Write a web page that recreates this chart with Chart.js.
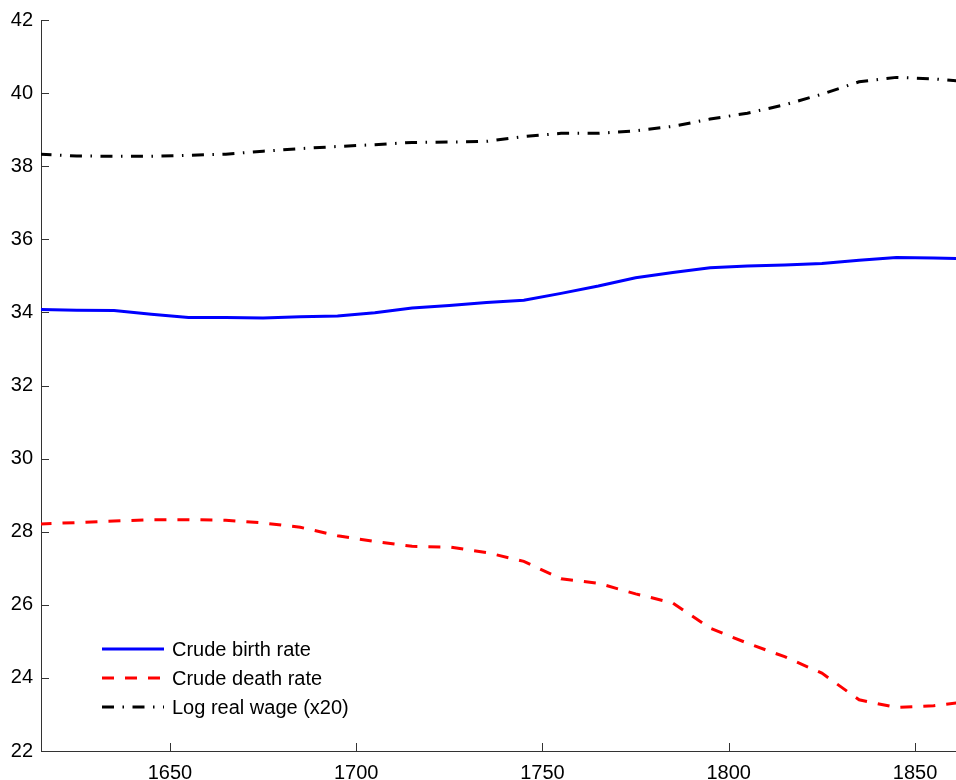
<!DOCTYPE html>
<html>
<head>
<meta charset="utf-8">
<title>Birth rate, death rate and real wage</title>
<script src="https://cdn.jsdelivr.net/npm/chart.js@4.4.1/dist/chart.umd.min.js"></script>
<style>
    html, body { margin: 0; padding: 0; background: #fff; }
    #wrap { width: 956px; height: 780px; }
</style>
</head>
<body>
<div id="wrap"><canvas id="rateChart" width="956" height="780"></canvas></div>
<script>
// 10년 간격 연도
const years = [1615, 1625, 1635, 1645, 1655, 1665, 1675, 1685, 1695, 1705, 1715, 1725, 1735,
               1745, 1755, 1765, 1775, 1785, 1795, 1805, 1815, 1825, 1835, 1845, 1855, 1865];

const birthRate = [34.08, 34.06, 34.05, 33.95, 33.86, 33.86, 33.85, 33.88, 33.90, 33.99, 34.12, 34.19, 34.27,
                   34.33, 34.52, 34.72, 34.95, 35.09, 35.22, 35.27, 35.30, 35.34, 35.43, 35.50, 35.49, 35.47];

const deathRate = [28.21, 28.25, 28.29, 28.33, 28.33, 28.31, 28.24, 28.12, 27.89, 27.73, 27.60, 27.58, 27.43,
                   27.19, 26.71, 26.59, 26.30, 26.05, 25.36, 24.95, 24.58, 24.13, 23.40, 23.19, 23.24, 23.36];

const logRealWage = [38.33, 38.28, 38.27, 38.27, 38.30, 38.33, 38.41, 38.48, 38.54, 38.59, 38.65, 38.66, 38.68,
                     38.81, 38.90, 38.90, 38.97, 39.09, 39.29, 39.45, 39.68, 39.97, 40.31, 40.43, 40.39, 40.30];

const xTicks = [1650, 1700, 1750, 1800, 1850];
const seriesLabels = ['Crude birth rate', 'Crude death rate', 'Log real wage (x20)'];

const FONT = { family: '"Liberation Sans", Arial, Helvetica, sans-serif', size: 20 };

function toPoints(values) {
    return years.map((yr, i) => ({ x: yr, y: values[i] }));
}

// 축 안쪽으로 들어가는 눈금 (MATLAB 스타일)
const innerTicksPlugin = {
    id: 'innerTicks',
    afterDraw(chart) {
        const { ctx, chartArea, scales } = chart;
        const len = 8;
        ctx.save();
        ctx.strokeStyle = '#333';
        ctx.lineWidth = 1;
        ctx.beginPath();
        scales.x.ticks.forEach(t => {
            const px = Math.round(scales.x.getPixelForValue(t.value)) + 0.5;
            ctx.moveTo(px, chartArea.bottom);
            ctx.lineTo(px, chartArea.bottom - len);
        });
        scales.y.ticks.forEach(t => {
            const py = Math.round(scales.y.getPixelForValue(t.value)) + 0.5;
            ctx.moveTo(chartArea.left, py);
            ctx.lineTo(chartArea.left + len, py);
        });
        ctx.stroke();
        ctx.restore();
    }
};

// 차트 내부 왼쪽 아래 범례
const insideLegendPlugin = {
    id: 'insideLegend',
    afterDraw(chart) {
        const { ctx, chartArea } = chart;
        const x0 = chartArea.left + 61;
        const x1 = chartArea.left + 123;
        const textX = chartArea.left + 131;
        let rowY = chartArea.bottom - 102;
        ctx.save();
        ctx.font = `${FONT.size}px ${FONT.family}`;
        ctx.textBaseline = 'middle';
        ctx.textAlign = 'left';
        chart.data.datasets.forEach(ds => {
            ctx.beginPath();
            ctx.strokeStyle = ds.borderColor;
            ctx.lineWidth = ds.borderWidth;
            ctx.setLineDash(ds.borderDash || []);
            ctx.moveTo(x0, rowY);
            ctx.lineTo(x1, rowY);
            ctx.stroke();
            ctx.setLineDash([]);
            ctx.fillStyle = '#000';
            ctx.fillText(ds.label, textX, rowY + 1);
            rowY += 29;
        });
        ctx.restore();
    }
};

const ctx = document.getElementById('rateChart').getContext('2d');
new Chart(ctx, {
    type: 'line',
    data: {
        datasets: [{
            label: seriesLabels[0],
            data: toPoints(birthRate),
            borderColor: '#0000ff',
            borderWidth: 3
        }, {
            label: seriesLabels[1],
            data: toPoints(deathRate),
            borderColor: '#ff0000',
            borderWidth: 3,
            borderDash: [12, 11]
        }, {
            label: seriesLabels[2],
            data: toPoints(logRealWage),
            borderColor: '#000000',
            borderWidth: 3,
            borderDash: [12, 8.5, 1.5, 8.5]
        }]
    },
    options: {
        responsive: false,
        animation: false,
        layout: { padding: { top: 19, right: 0, left: 0, bottom: 0 } },
        elements: {
            point: { radius: 0 },
            line: { tension: 0, borderCapStyle: 'butt' }
        },
        plugins: {
            legend: { display: false },
            tooltip: { enabled: false }
        },
        scales: {
            x: {
                type: 'linear',
                min: 1615.4,
                max: 1861,
                afterBuildTicks: scale => {
                    scale.ticks = xTicks.map(v => ({ value: v }));
                },
                afterFit: scale => { scale.height = 29; },
                grid: { display: false, drawTicks: false },
                border: { display: true, color: '#333', width: 1 },
                ticks: {
                    color: '#000',
                    font: FONT,
                    padding: 10,
                    maxRotation: 0,
                    callback: v => String(v)
                }
            },
            y: {
                min: 22,
                max: 42,
                afterFit: scale => { scale.width = 41; },
                grid: { display: false, drawTicks: false },
                border: { display: true, color: '#333', width: 1 },
                ticks: {
                    stepSize: 2,
                    color: '#000',
                    font: FONT,
                    padding: 8
                }
            }
        }
    },
    plugins: [innerTicksPlugin, insideLegendPlugin]
});
</script>
</body>
</html>
